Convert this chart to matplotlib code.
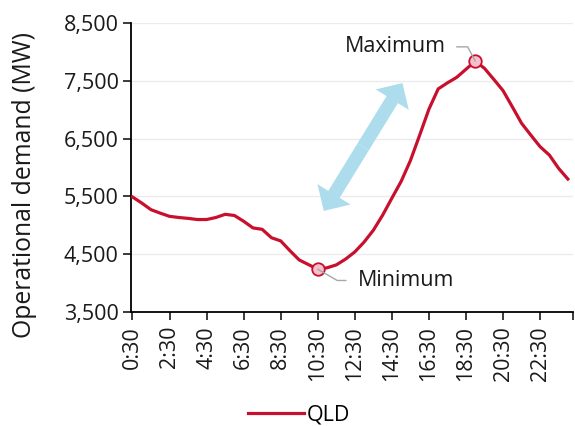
import matplotlib
matplotlib.use("Agg")
import matplotlib.pyplot as plt
import numpy as np
from matplotlib.ticker import FuncFormatter
from matplotlib.patches import FancyArrowPatch

plt.rcParams['font.family'] = ['Open Sans', 'DejaVu Sans']

# ---- data ----
times = ["0:30", "1:00", "1:30", "2:00", "2:30", "3:00", "3:30", "4:00",
         "4:30", "5:00", "5:30", "6:00", "6:30", "7:00", "7:30", "8:00",
         "8:30", "9:00", "9:30", "10:00", "10:30", "11:00", "11:30", "12:00",
         "12:30", "13:00", "13:30", "14:00", "14:30", "15:00", "15:30", "16:00",
         "16:30", "17:00", "17:30", "18:00", "18:30", "19:00", "19:30", "20:00",
         "20:30", "21:00", "21:30", "22:00", "22:30", "23:00", "23:30", "0:00"]
qld = [5490, 5385, 5270, 5210, 5155, 5135, 5120, 5100,
       5100, 5135, 5190, 5170, 5070, 4955, 4930, 4785,
       4730, 4560, 4400, 4320, 4240, 4265, 4315, 4415,
       4540, 4710, 4915, 5175, 5470, 5760, 6120, 6560,
       7010, 7360, 7465, 7560, 7700, 7840, 7715, 7525,
       7330, 7050, 6765, 6560, 6360, 6215, 5985, 5800]
series_name = "QLD"
y_ticks = [3500, 4500, 5500, 6500, 7500, 8500]
tick_step = 4

line_color = "#C8102E"
fs = 15.5

fig = plt.figure(figsize=(5.75, 4.26), dpi=100)
ax = fig.add_axes([0.228, 0.2676, 0.7685, 0.6784])

x = np.arange(len(qld))
ax.plot(x, qld, color=line_color, lw=2.3, label=series_name, zorder=3,
        solid_joinstyle='round')

imin = int(np.argmin(qld))
imax = int(np.argmax(qld))
ax.plot([imin, imax], [qld[imin], qld[imax]], ls='none', marker='o', ms=9,
        mfc='#F7BFCB', mec=line_color, mew=1.3, zorder=4)

ax.annotate("Maximum", xy=(imax, qld[imax]), xytext=(-21.4, 10.3),
            textcoords='offset points', ha='right', va='center', fontsize=fs,
            color='#1a1a1a', zorder=5,
            arrowprops=dict(arrowstyle='-', color='#A6A6A6', lw=1.0,
                            connectionstyle='angle,angleA=0,angleB=118,rad=0',
                            shrinkA=6, shrinkB=0, relpos=(1, 0.5)))
ax.annotate("Minimum", xy=(imin, qld[imin]), xytext=(28.8, -8.1),
            textcoords='offset points', ha='left', va='center', fontsize=fs,
            color='#1a1a1a', zorder=5,
            arrowprops=dict(arrowstyle='-', color='#A6A6A6', lw=1.0,
                            connectionstyle='angle,angleA=0,angleB=-30,rad=0',
                            shrinkA=6.5, shrinkB=0, relpos=(0, 0.5)))

# double-headed light blue arrow
p1 = np.array([20.65, 5249.0])
p2 = np.array([29.14, 7461.0])
mid = (p1 + p2) / 2
for tip in (p1, p2):
    arr = FancyArrowPatch(posA=tuple(mid), posB=tuple(tip),
                          arrowstyle='simple,head_length=0.35,head_width=0.7,tail_width=0.24',
                          mutation_scale=40, color='#ADDDEC', lw=0,
                          shrinkA=0, shrinkB=0, zorder=2)
    ax.add_patch(arr)

ax.set_ylim(3500, 8500)
ax.set_xlim(-0.15, 47.55)
ax.set_yticks(y_ticks)
ax.yaxis.set_major_formatter(FuncFormatter(lambda v, p: f"{int(v):,}"))
xt = list(range(0, len(qld), tick_step)) + [47.55]
ax.set_xticks(xt)
ax.set_xticklabels([times[i] for i in range(0, len(qld), tick_step)] + [""],
                   rotation=90)
ax.tick_params(axis='both', labelsize=fs, colors='#1a1a1a', length=6,
               width=1.2, direction='out')
ax.tick_params(axis='x', pad=4)
ax.tick_params(axis='y', pad=3)

ax.grid(axis='y', color='#EBEBEB', lw=1.0, zorder=0)
ax.set_axisbelow(True)
for s in ('top', 'right'):
    ax.spines[s].set_visible(False)
for s in ('left', 'bottom'):
    ax.spines[s].set_linewidth(1.3)
    ax.spines[s].set_color('black')

ax.set_ylabel("Operational demand (MW)", fontsize=17.8, color='#1a1a1a')
ax.yaxis.set_label_coords(-0.212, 0.44)

fig.legend(loc='lower center', bbox_to_anchor=(0.52, -0.045), frameon=False,
           fontsize=fs, handlelength=2.6, handletextpad=0.1)

fig.savefig("out.png", dpi=100)
